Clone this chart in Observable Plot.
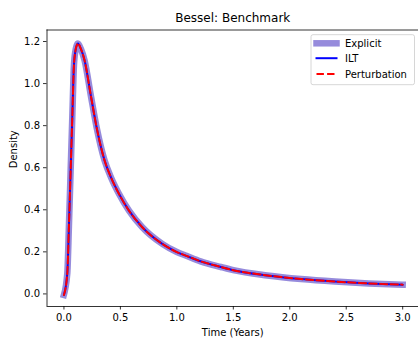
<!DOCTYPE html>
<html>
<head>
<meta charset="utf-8">
<script src="https://cdn.jsdelivr.net/npm/d3@7"></script>
<script src="https://cdn.jsdelivr.net/npm/@observablehq/plot@0.6"></script>
<style>
  html, body { margin: 0; padding: 0; background: #fff; }
  #chart { width: 418px; height: 339px; }
</style>
</head>
<body>
<div id="chart"></div>
<script>
const title = "Bessel: Benchmark";
const xLabel = "Time (Years)";
const yLabel = "Density";
const seriesNames = ["Explicit", "ILT", "Perturbation"];
const xTicks = [0, 0.5, 1.0, 1.5, 2.0, 2.5, 3.0];
const yTicks = [0, 0.2, 0.4, 0.6, 0.8, 1.0, 1.2];

const time = [0, 0.03, 0.044, 0.059, 0.074, 0.088, 0.10, 0.124, 0.15, 0.183, 0.236, 0.29, 0.36, 0.42, 0.487, 0.576, 0.694, 0.871, 1.0, 1.09, 1.21, 1.39, 1.5, 1.8, 2.1, 2.4, 2.7, 3.0];
const explicit = [-0.005, 0.10, 0.32, 0.58, 0.84, 1.08, 1.15, 1.19, 1.165, 1.11, 0.95, 0.79, 0.634, 0.55, 0.476, 0.396, 0.317, 0.238, 0.199, 0.180, 0.155, 0.128, 0.113, 0.088, 0.071, 0.059, 0.050, 0.044];
const ilt = [-0.005, 0.10, 0.32, 0.58, 0.84, 1.08, 1.15, 1.19, 1.165, 1.11, 0.95, 0.79, 0.634, 0.55, 0.476, 0.396, 0.317, 0.238, 0.199, 0.180, 0.155, 0.128, 0.113, 0.088, 0.071, 0.059, 0.050, 0.044];
const perturbation = [-0.005, 0.10, 0.32, 0.58, 0.84, 1.08, 1.15, 1.19, 1.165, 1.11, 0.95, 0.79, 0.634, 0.55, 0.476, 0.396, 0.317, 0.238, 0.199, 0.180, 0.155, 0.128, 0.113, 0.088, 0.071, 0.059, 0.050, 0.044];

const mk = (vals) => time.map((t, i) => ({t, v: vals[i]}));
const dExplicit = mk(explicit), dIlt = mk(ilt), dPert = mk(perturbation);

const explicitColor = "#6a5acd";
const fmt = d3.format(".1f");

const xDom = [-0.15, 3.14];
const yDom = [-0.0598, 1.2547];

const plot = Plot.plot({
  width: 418,
  height: 339,
  marginLeft: 46.5,
  marginRight: 0,
  marginTop: 29.5,
  marginBottom: 33,
  style: {fontFamily: "DejaVu Sans", fontSize: "10px", background: "#fff", color: "#000", overflow: "visible"},
  x: {domain: xDom},
  y: {domain: yDom},
  marks: [
    Plot.line(dExplicit, {x: "t", y: "v", stroke: explicitColor, strokeOpacity: 0.7, strokeWidth: 6.5, strokeLinecap: "square", strokeLinejoin: "round", curve: "monotone-x"}),
    Plot.line(dIlt, {x: "t", y: "v", stroke: "blue", strokeWidth: 2, curve: "monotone-x"}),
    Plot.line(dPert, {x: "t", y: "v", stroke: "red", strokeWidth: 2, strokeDasharray: "7.4,3.2", curve: "monotone-x"}),
    Plot.ruleX([xDom[0]], {stroke: "#000", strokeWidth: 0.8}),
    Plot.ruleY([yDom[0], yDom[1]], {stroke: "#000", strokeWidth: 0.8}),
    Plot.axisX({ticks: xTicks, tickFormat: fmt, tickSize: 3.5, tickPadding: 3.5, strokeWidth: 0.8, label: null, fontSize: 10}),
    Plot.axisY({ticks: yTicks, tickFormat: fmt, tickSize: 3.5, tickPadding: 3.5, strokeWidth: 0.8, label: null, fontSize: 10}),
    Plot.text([title], {frameAnchor: "top", dy: -11.5, lineAnchor: "middle", fontSize: 12, fill: "#000"}),
    Plot.text([xLabel], {frameAnchor: "bottom", dy: 26.7, lineAnchor: "middle", fontSize: 10, fill: "#000"}),
    Plot.text([yLabel], {frameAnchor: "left", dx: -33.2, rotate: -90, lineAnchor: "middle", fontSize: 10, fill: "#000"})
  ]
});

// Legend (matplotlib style, upper right)
const svg = d3.select(plot);
const lg = svg.append("g").attr("font-family", "DejaVu Sans").attr("font-size", 10).attr("text-anchor", "start");
lg.append("rect").attr("x", 311).attr("y", 34.7).attr("width", 103.5).attr("height", 50)
  .attr("rx", 2).attr("fill", "#fff").attr("fill-opacity", 0.8).attr("stroke", "#cccccc").attr("stroke-width", 0.8);
const rows = [
  {name: seriesNames[0], y: 43.3, stroke: explicitColor, op: 0.7, w: 6.5, dash: null, cap: "square"},
  {name: seriesNames[1], y: 58.2, stroke: "blue", op: 1, w: 2, dash: null, cap: "square"},
  {name: seriesNames[2], y: 74.0, stroke: "red", op: 1, w: 2, dash: "7.4,3.2", cap: "butt"}
];
for (const r of rows) {
  const ln = lg.append("line").attr("x1", 316.5).attr("x2", 336.5).attr("y1", r.y).attr("y2", r.y)
    .attr("stroke", r.stroke).attr("stroke-opacity", r.op).attr("stroke-width", r.w).attr("stroke-linecap", r.cap);
  if (r.dash) ln.attr("stroke-dasharray", r.dash);
  lg.append("text").attr("x", 345).attr("y", r.y).attr("dy", "0.35em").attr("fill", "#000").attr("text-anchor", "start").text(r.name);
}

document.getElementById("chart").appendChild(plot);
</script>
</body>
</html>
